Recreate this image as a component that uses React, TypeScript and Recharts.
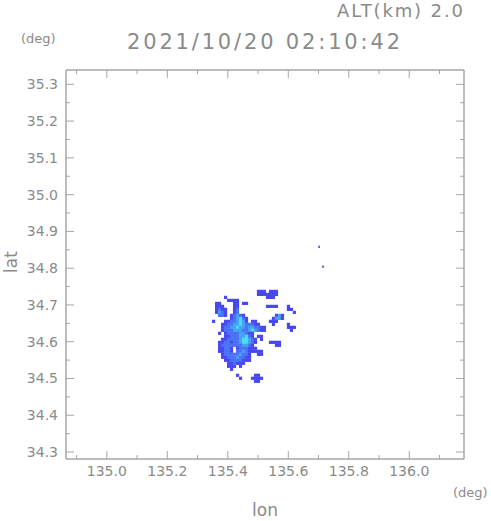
import { ScatterChart, Scatter, XAxis, YAxis } from 'recharts';

// echo grid: '.' = no echo, 1..4 = intensity class
const GRID_LON0 = 135.353;
const GRID_LAT0 = 34.745;
const GRID_DLON = 0.0099;
const GRID_DLAT = 0.00815;

const ECHO_ROWS = [
  '.............................',
  '...............111.111.......',
  '...............1111111.......',
  '....1.............111........',
  '.....1111....................',
  '.11....11.11.................',
  '.111...11.........1111...1...',
  '.1211..12................11..',
  '.1321..12..................1.',
  '..221.12321..........131.....',
  '......123421........1331.....',
  '1...11223431.11....111.......',
  '...1122334322211....1....1...',
  '...122334332332211.......111.',
  '...122233322343211........1..',
  '..1.1222233211...............',
  '....1122233421.11............',
  '...112222344321.1............',
  '..1122122344321....1111......',
  '..122222223321.......11......',
  '..11221.1222111..............',
  '..11221.223211111............',
  '...1222223221..11............',
  '...1122232211................',
  '....112222111................',
  '.....112111..................',
  '.....111.1...................',
  '......1......................',
  '.............................',
  '........1.....11.............',
  '.........1...1111............',
  '..............11.............',
];

// lone echoes away from the main cell
const STRAY_LON = [135.702, 135.715];
const STRAY_LAT = [34.858, 34.804];

const LEVEL_COLORS = ['', '#4848f2', '#4a72f4', '#44a2f6', '#4adcf6'];

const LON_TICKS = [134.9, 135.0, 135.1, 135.2, 135.3, 135.4, 135.5, 135.6, 135.7, 135.8, 135.9, 136.0, 136.1];
const LON_LABELS = ['135.0', '135.2', '135.4', '135.6', '135.8', '136.0'];
const LAT_TICKS = [34.3, 34.35, 34.4, 34.45, 34.5, 34.55, 34.6, 34.65, 34.7, 34.75, 34.8, 34.85, 34.9, 34.95, 35.0, 35.05, 35.1, 35.15, 35.2, 35.25, 35.3];

const LON_DOMAIN = [134.865, 136.181];
const LAT_DOMAIN = [34.281, 35.339];

const TITLE = '2021/10/20 02:10:42';
const ALT_LABEL = 'ALT(km) 2.0';

const echoCells = ECHO_ROWS.flatMap((row, r) =>
  row.split('').flatMap((ch, c) =>
    ch === '.' ? [] : [{ lon: GRID_LON0 + c * GRID_DLON, lat: GRID_LAT0 - r * GRID_DLAT, level: Number(ch) }]
  )
);
const strayCells = STRAY_LON.map((lon, i) => ({ lon, lat: STRAY_LAT[i], level: 1 }));

const FONT = '"DejaVu Sans", sans-serif';
const TEXT = '#8a8a8a';
const FRAME = '#a6a6a6';

const onTenth = (v: number) => Math.abs(v * 10 - Math.round(v * 10)) < 1e-6;

function BottomTick(props: any) {
  const { x, y, payload } = props;
  const major = LON_LABELS.includes(payload.value.toFixed(1));
  return (
    <g>
      <line x1={x} x2={x} y1={y} y2={y - (major ? 8 : 4)} stroke={FRAME} />
      {major && (
        <text x={x} y={y + 17} textAnchor="middle" fontSize={14} fill={TEXT} fontFamily={FONT}>
          {payload.value.toFixed(1)}
        </text>
      )}
    </g>
  );
}

function TopTick(props: any) {
  const { x, y, payload } = props;
  const major = LON_LABELS.includes(payload.value.toFixed(1));
  return <line x1={x} x2={x} y1={y} y2={y + (major ? 8 : 4)} stroke={FRAME} />;
}

function LeftTick(props: any) {
  const { x, y, payload } = props;
  const major = onTenth(payload.value);
  return (
    <g>
      <line x1={x} x2={x + (major ? 8 : 4)} y1={y} y2={y} stroke={FRAME} />
      {major && (
        <text x={x - 8} y={y + 5} textAnchor="end" fontSize={14} fill={TEXT} fontFamily={FONT}>
          {payload.value.toFixed(1)}
        </text>
      )}
    </g>
  );
}

function RightTick(props: any) {
  const { x, y, payload } = props;
  const major = onTenth(payload.value);
  return <line x1={x} x2={x - (major ? 8 : 4)} y1={y} y2={y} stroke={FRAME} />;
}

function EchoCell(props: any) {
  const { cx, cy, payload } = props;
  return <rect x={cx - 1.6} y={cy - 1.6} width={3.2} height={3.2} fill={LEVEL_COLORS[payload.level]} />;
}

function StrayCell(props: any) {
  const { cx, cy } = props;
  return <rect x={cx - 0.8} y={cy - 1.2} width={1.6} height={2.4} fill={LEVEL_COLORS[1]} />;
}

export default function App() {
  return (
    <div style={{ position: 'absolute', left: 0, top: 0, width: 491, height: 521, background: '#fff' }}>
      <ScatterChart width={491} height={521} margin={{ top: 69, right: 26, bottom: 32, left: 16 }}>
        <XAxis
          xAxisId="bottom"
          dataKey="lon"
          type="number"
          domain={LON_DOMAIN}
          ticks={LON_TICKS}
          interval={0}
          height={30}
          tickSize={0}
          tickMargin={0}
          tickLine={false}
          axisLine={{ stroke: FRAME, strokeWidth: 1.5 }}
          tick={<BottomTick />}
          allowDataOverflow
        />
        <XAxis
          xAxisId="top"
          orientation="top"
          dataKey="lon"
          type="number"
          domain={LON_DOMAIN}
          ticks={LON_TICKS}
          interval={0}
          height={1}
          tickSize={0}
          tickMargin={0}
          tickLine={false}
          axisLine={{ stroke: FRAME, strokeWidth: 1.5 }}
          tick={<TopTick />}
          allowDataOverflow
        />
        <YAxis
          yAxisId="left"
          dataKey="lat"
          type="number"
          domain={LAT_DOMAIN}
          ticks={LAT_TICKS}
          interval={0}
          width={50}
          tickSize={0}
          tickMargin={0}
          tickLine={false}
          axisLine={{ stroke: FRAME, strokeWidth: 1.5 }}
          tick={<LeftTick />}
          allowDataOverflow
        />
        <YAxis
          yAxisId="right"
          orientation="right"
          dataKey="lat"
          type="number"
          domain={LAT_DOMAIN}
          ticks={LAT_TICKS}
          interval={0}
          width={1}
          tickSize={0}
          tickMargin={0}
          tickLine={false}
          axisLine={{ stroke: FRAME, strokeWidth: 1.5 }}
          tick={<RightTick />}
          allowDataOverflow
        />
        <Scatter xAxisId="bottom" yAxisId="left" data={echoCells} shape={<EchoCell />} isAnimationActive={false} />
        <Scatter xAxisId="top" yAxisId="right" data={strayCells} shape={<StrayCell />} isAnimationActive={false} />
      </ScatterChart>
      <svg width={491} height={521} style={{ position: 'absolute', left: 0, top: 0, pointerEvents: 'none' }}>
        <g fill={TEXT} fontFamily={FONT}>
          <text x={463} y={17} textAnchor="end" fontSize={18} textLength={126} lengthAdjust="spacing">{ALT_LABEL}</text>
          <text x={127} y={49} fontSize={21} textLength={273} lengthAdjust="spacing">{TITLE}</text>
          <text x={21} y={43} fontSize={13}>(deg)</text>
          <text x={453} y={497} fontSize={13}>(deg)</text>
          <text x={265} y={516} textAnchor="middle" fontSize={17}>lon</text>
          <text x={17} y={262} textAnchor="middle" fontSize={17} transform="rotate(-90 17 262)">lat</text>
        </g>
      </svg>
    </div>
  );
}
